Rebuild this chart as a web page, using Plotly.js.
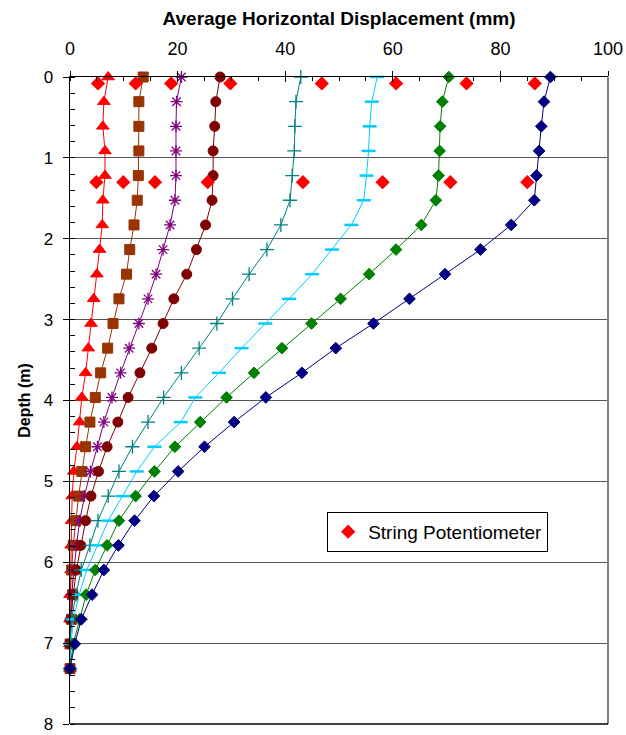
<!DOCTYPE html>
<html>
<head>
<meta charset="utf-8">
<script src="https://cdn.plot.ly/plotly-3.0.1.min.js"></script>
<style>html,body{margin:0;padding:0;background:#fff;}#chart{width:626px;height:735px;}</style>
</head>
<body>
<div id="chart"></div>
<script>
// Depth of inclinometer readings (m)
const depth = [0, 0.305, 0.610, 0.914, 1.219, 1.524, 1.829, 2.134, 2.438, 2.743, 3.048, 3.353, 3.658, 3.962, 4.267, 4.572, 4.877, 5.182, 5.486, 5.791, 6.096, 6.401, 6.706, 7.010, 7.315];

// Average horizontal displacement (mm) for each loading stage
const s1 = [7.1, 6.3, 6.1, 6.5, 6.5, 6.1, 6.0, 5.5, 5.0, 4.4, 3.9, 3.4, 2.9, 2.2, 1.8, 1.3, 0.7, 0.4, 0.3, 0.2, 0.2, 0.0, 0.0, 0.0, 0.0];
const s2 = [13.6, 12.8, 12.8, 12.8, 12.7, 12.5, 11.9, 11.1, 10.5, 9.1, 8.0, 7.0, 5.7, 4.7, 3.7, 2.9, 2.2, 1.6, 1.1, 0.6, 0.3, 0.5, 0.3, 0.0, 0.0];
const s3 = [20.7, 19.8, 19.7, 19.7, 19.7, 19.5, 18.6, 17.3, 16.0, 14.5, 12.8, 11.0, 9.4, 7.8, 6.3, 5.1, 3.8, 2.7, 1.8, 1.2, 0.7, 0.3, 0.1, 0.0, 0.0];
const s4 = [27.9, 27.1, 26.9, 26.6, 26.6, 26.4, 25.2, 23.5, 21.7, 19.3, 17.3, 15.2, 13.0, 10.8, 8.9, 6.9, 5.3, 3.9, 2.9, 2.0, 1.2, 0.6, 0.1, 0.0, 0.0];
const s5 = [42.9, 42.0, 41.8, 41.7, 41.3, 40.9, 39.2, 36.6, 33.3, 30.2, 27.3, 24.0, 20.7, 17.4, 14.5, 11.6, 9.1, 7.1, 5.2, 3.7, 2.1, 1.1, 0.3, 0.0, 0.0];
const s6 = [57.1, 56.1, 55.7, 55.5, 55.1, 54.6, 52.3, 48.7, 45.0, 40.7, 36.3, 31.9, 27.7, 23.3, 20.6, 15.7, 12.4, 9.8, 7.1, 5.1, 3.1, 1.7, 0.6, 0.2, 0.0];
const s7 = [70.4, 69.2, 68.8, 68.7, 68.5, 68.0, 65.3, 60.6, 55.6, 50.3, 44.9, 39.4, 34.2, 29.1, 24.2, 19.5, 15.7, 12.2, 9.1, 6.9, 4.7, 3.0, 1.8, 0.6, 0.0];
const s8 = [89.3, 88.1, 87.6, 87.2, 86.7, 86.3, 82.0, 76.3, 69.7, 63.1, 56.4, 49.4, 43.1, 36.4, 30.5, 25.0, 20.1, 15.6, 12.0, 9.0, 6.3, 4.1, 2.1, 0.9, 0.0];

// String potentiometer readings
const potX = [5.2, 12.2, 18.8, 29.8, 46.8, 60.6, 73.7, 86.4, 4.9, 9.9, 15.8, 25.6, 43.3, 58.1, 70.7, 85.0];
const potDepth = [0.08, 0.08, 0.08, 0.08, 0.08, 0.08, 0.08, 0.08, 1.30, 1.30, 1.30, 1.30, 1.30, 1.30, 1.30, 1.30];

const xTicks = [0, 20, 40, 60, 80, 100];
const yTicks = [0, 1, 2, 3, 4, 5, 6, 7, 8];

function stage(x, color, symbol, size, mlw) {
  return {
    x: x, y: depth, type: 'scatter', mode: 'lines+markers', showlegend: false,
    cliponaxis: false,
    line: {color: color, width: 1},
    marker: {color: color, symbol: symbol, size: size, line: {color: color, width: mlw || 1}}
  };
}

const traces = [
  stage(s1, '#FF0000', 'triangle-up', 11, 1),
  stage(s2, '#993300', 'square', 10, 1),
  stage(s3, '#800080', 'asterisk-open', 10, 1.3),
  stage(s4, '#800000', 'circle', 10, 1),
  stage(s5, '#008080', 'cross-thin-open', 10, 1.3),
  stage(s6, '#00CCFF', 'line-ew-open', 10, 2.5),
  stage(s7, '#008000', 'diamond', 9, 1),
  stage(s8, '#000080', 'diamond', 9, 1),
  {
    x: potX, y: potDepth, type: 'scatter', mode: 'markers', name: 'String Potentiometer',
    cliponaxis: false,
    marker: {color: '#FF0000', symbol: 'diamond', size: 11}
  }
];

const font = {family: 'Arial, "Liberation Sans", sans-serif', color: '#000'};

const layout = {
  width: 626, height: 735,
  margin: {l: 70, r: 18, t: 77, b: 11},
  paper_bgcolor: '#fff', plot_bgcolor: '#fff',
  font: font,
  showlegend: true,
  legend: {
    x: 0.478, y: 0.328, xanchor: 'left', yanchor: 'top',
    bordercolor: '#000', borderwidth: 1, bgcolor: '#fff',
    itemwidth: 30, tracegroupgap: 0,
    font: {family: font.family, size: 19, color: '#000'}
  },
  xaxis: {
    side: 'top', range: [0, 100], tickvals: xTicks, ticktext: xTicks.map(String),
    ticks: 'outside', ticklen: 5, tickcolor: '#000', tickwidth: 1,
    ticklabelstandoff: 8,
    minor: {dtick: 5, ticks: 'inside', ticklen: 4, tickcolor: '#000', tickwidth: 1, showgrid: false},
    showline: true, linecolor: '#000', linewidth: 1.5, mirror: false,
    showgrid: false, zeroline: false,
    tickfont: {family: font.family, size: 18, color: '#000'},
    title: {text: '<b>Average Horizontal Displacement (mm)</b>', standoff: 8,
            font: {family: font.family, size: 19, color: '#000'}}
  },
  xaxis2: {
    overlaying: 'x', side: 'top', range: [0, 100], tickvals: xTicks,
    ticks: 'inside', ticklen: 5, tickcolor: '#000', showticklabels: false,
    showline: false, showgrid: false, zeroline: false
  },
  yaxis: {
    range: [8, 0], tickvals: yTicks, ticktext: yTicks.map(String),
    ticks: 'outside', ticklen: 6, tickcolor: '#000', tickwidth: 1,
    ticklabelstandoff: 6, ticklabeloverflow: 'allow',
    minor: {dtick: 0.2, ticks: 'inside', ticklen: 5, tickcolor: '#000', tickwidth: 1, showgrid: false},
    showline: true, linecolor: '#000', linewidth: 1.5,
    showgrid: true, gridcolor: '#555', gridwidth: 1, zeroline: false,
    tickfont: {family: font.family, size: 17, color: '#000'},
    title: {text: '<b>Depth (m)</b>', standoff: 9,
            font: {family: font.family, size: 16, color: '#000'}}
  },
  yaxis2: {
    overlaying: 'y', side: 'left', range: [8, 0], tickvals: yTicks,
    ticks: 'inside', ticklen: 5, tickcolor: '#000', showticklabels: false,
    showline: false, showgrid: false, zeroline: false
  },
  shapes: [
    {type: 'line', xref: 'paper', yref: 'paper', x0: 1, x1: 1, y0: 0, y1: 1, line: {color: '#808080', width: 2}},
    {type: 'line', xref: 'paper', yref: 'paper', x0: 0, x1: 1, y0: 0, y1: 0, line: {color: '#000', width: 1.5}}
  ]
};

// invisible helper trace so the overlay tick axes render
traces.push({x: [0], y: [0], xaxis: 'x2', yaxis: 'y2', mode: 'markers', marker: {opacity: 0}, showlegend: false, hoverinfo: 'skip'});

Plotly.newPlot('chart', traces, layout, {displayModeBar: false, staticPlot: true});
</script>
</body>
</html>
